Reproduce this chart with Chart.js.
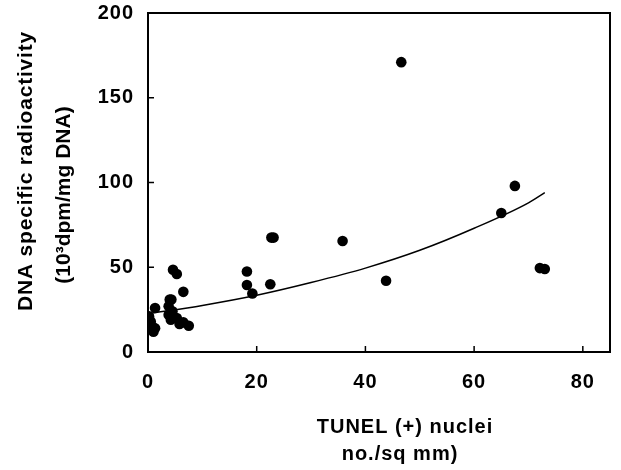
<!DOCTYPE html>
<html>
<head>
<meta charset="utf-8">
<script src="https://cdn.jsdelivr.net/npm/chart.js@4"></script>
<style>
  html, body { margin: 0; padding: 0; background: #fff; }
</style>
</head>
<body>
<canvas id="dnaChart" width="621" height="470"></canvas>
<script>
// TUNEL (+) nuclei, no./sq mm
const tunelX = [
  0.2, 0.5, 0.8, 1.0, 1.3, 1.3,
  3.8, 4.0, 4.3, 3.8, 4.2, 4.5, 5.3, 5.8, 6.5, 7.5, 6.5, 4.6, 5.3,
  18.2, 18.2, 19.2, 22.5, 22.7, 23.1, 35.8, 43.8, 46.6,
  65.0, 67.5, 72.1, 73.0
];
// DNA specific radioactivity, 10^3 dpm/mg DNA
const dnaY = [
  21, 18, 15, 12, 14, 26,
  27, 31, 31, 22, 19, 24, 20, 16.5, 17.5, 15.5, 35.5, 48.5, 46,
  47.5, 39.5, 34.5, 40, 67.5, 67.5, 65.5, 42, 171,
  82, 98, 49.5, 49
];
// fitted curve
const curveX = [0, 10, 20, 30, 40, 50, 60, 70, 73];
const curveY = [22.5, 27.5, 33.5, 41, 49.5, 60, 73, 88, 94];

const xTicks = [0, 20, 40, 60, 80];
const yTicks = [0, 50, 100, 150, 200];

const FONT = '"Liberation Sans", Arial, sans-serif';

const points = tunelX.map((x, i) => ({ x: x, y: dnaY[i] }));
const curve = curveX.map((x, i) => ({ x: x, y: curveY[i] }));

// frame, inward tick marks and axis titles
const framePlugin = {
  id: 'frame',
  beforeDraw(chart) {
    // the scanned tick numbers are a bit spread out
    chart.ctx.letterSpacing = '1px';
  },
  afterDraw(chart) {
    const ctx = chart.ctx;
    const a = chart.chartArea;
    const xs = chart.scales.x;
    const ys = chart.scales.y;
    ctx.save();
    ctx.strokeStyle = '#000';
    ctx.lineWidth = 2;
    ctx.strokeRect(a.left, a.top, a.right - a.left, a.bottom - a.top);

    ctx.lineWidth = 1.5;
    ctx.beginPath();
    xTicks.slice(1).forEach((v) => {
      const px = xs.getPixelForValue(v);
      ctx.moveTo(px, a.bottom);
      ctx.lineTo(px, a.bottom - 6);
    });
    yTicks.slice(1, -1).forEach((v) => {
      const py = ys.getPixelForValue(v);
      ctx.moveTo(a.left, py);
      ctx.lineTo(a.left + 6, py);
    });
    ctx.stroke();

    ctx.fillStyle = '#000';
    ctx.textAlign = 'center';
    ctx.textBaseline = 'alphabetic';
    ctx.font = 'bold 20px ' + FONT;
    ctx.letterSpacing = '1px';
    ctx.fillText('TUNEL (+) nuclei', 405, 433);
    ctx.fillText('no./sq mm)', 400, 460);

    ctx.font = 'bold 21px ' + FONT;
    ctx.save();
    ctx.translate(32, 171);
    ctx.rotate(-Math.PI / 2);
    ctx.letterSpacing = '0.8px';
    ctx.fillText('DNA specific radioactivity', 0, 0);
    ctx.restore();

    ctx.translate(70, 195);
    ctx.rotate(-Math.PI / 2);
    ctx.letterSpacing = '0px';
    ctx.fillText('(10\u00B3dpm/mg DNA)', 0, 0);
    ctx.restore();
  }
};

// keep the plot box where the scan has it
function fixPadding(s) {
  s.paddingTop = 0;
  s.paddingBottom = 0;
  s.paddingLeft = 0;
  s.paddingRight = 0;
}

new Chart(document.getElementById('dnaChart'), {
  type: 'scatter',
  data: {
    datasets: [
      {
        label: 'samples',
        data: points,
        backgroundColor: '#000',
        borderColor: '#000',
        pointRadius: 5.3,
        pointHoverRadius: 5.3,
        borderWidth: 0,
      },
      {
        type: 'line',
        label: 'fit',
        data: curve,
        borderColor: '#000',
        borderWidth: 1.5,
        pointRadius: 0,
        fill: false,
        cubicInterpolationMode: 'monotone',
      },
    ],
  },
  options: {
    responsive: false,
    animation: false,
    layout: { padding: { top: 13, right: 11, left: 0, bottom: 0 } },
    plugins: {
      legend: { display: false },
      tooltip: { enabled: false },
    },
    scales: {
      x: {
        type: 'linear',
        min: 0,
        max: 85,
        afterBuildTicks: (s) => { s.ticks = xTicks.map((v) => ({ value: v })); },
        afterFit: (s) => { s.height = 118; fixPadding(s); },
        grid: { display: false, drawTicks: false },
        border: { display: false },
        ticks: {
          color: '#000',
          padding: 18,
          font: { family: FONT, size: 20, weight: 'bold' },
        },
      },
      y: {
        min: 0,
        max: 200,
        afterBuildTicks: (s) => { s.ticks = yTicks.map((v) => ({ value: v })); },
        afterFit: (s) => { s.width = 148; fixPadding(s); },
        grid: { display: false, drawTicks: false },
        border: { display: false },
        ticks: {
          color: '#000',
          padding: 14,
          font: { family: FONT, size: 20, weight: 'bold' },
        },
      },
    },
  },
  plugins: [framePlugin],
});
</script>
</body>
</html>
